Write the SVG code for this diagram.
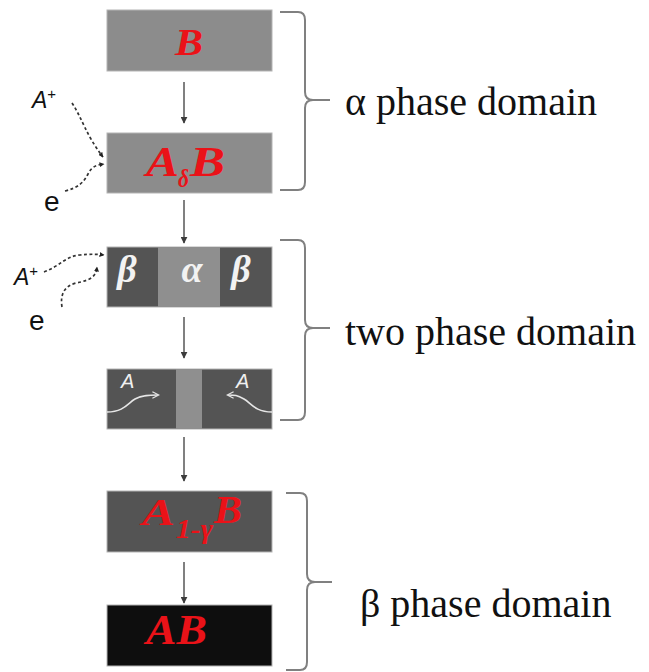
<svg xmlns="http://www.w3.org/2000/svg" width="649" height="672" viewBox="0 0 649 672">
  <style>
    .box { stroke: #b4b4b4; stroke-width: 1; }
    .mid { fill: #8c8c8c; }
    .dark { fill: #545454; }
    .black { fill: #0e0e0e; }
    .red { font-family: "Liberation Serif", "Times New Roman", serif; font-weight: bold; font-style: italic; fill: #ea1218; }
    .big { font-size: 42px; }
    .sub { font-size: 25px; }
    .greek { font-family: "Liberation Serif", "Times New Roman", serif; font-weight: bold; font-style: italic; fill: #f2f2f2; font-size: 38px; }
    .lbl { font-family: "Liberation Sans", Arial, sans-serif; fill: #111; font-size: 23px; }
    .el { font-size: 28px; }
    .ion { font-style: italic; }
    .sup { font-size: 15px; }
    .wA { font-family: "Liberation Sans", Arial, sans-serif; font-style: italic; font-size: 20px; fill: #f0f0f0; }
    .dom { font-family: "Liberation Serif", "Times New Roman", serif; font-size: 40px; fill: #111; }
    .flow { stroke: #3c3c3c; stroke-width: 1.3; fill: none; marker-end: url(#head); }
    .dash { stroke: #333; stroke-width: 1.7; fill: none; stroke-dasharray: 3 2.5; marker-end: url(#dhead); }
    .brace { stroke: #808080; stroke-width: 2; fill: none; }
    .wflow { stroke: #e6e6e6; stroke-width: 1.6; fill: none; marker-end: url(#whead); }
  </style>
  <defs>
    <marker id="head" viewBox="0 0 10 10" refX="9" refY="5" markerWidth="7" markerHeight="7" markerUnits="userSpaceOnUse" orient="auto">
      <path d="M0,0 L10,5 L0,10 z" fill="#3c3c3c"/>
    </marker>
    <marker id="dhead" viewBox="0 0 10 10" refX="9" refY="5" markerWidth="5" markerHeight="5" markerUnits="userSpaceOnUse" orient="auto">
      <path d="M0,0 L10,5 L0,10 z" fill="#222"/>
    </marker>
    <marker id="whead" viewBox="0 0 10 10" refX="8" refY="5" markerWidth="8" markerHeight="8" markerUnits="userSpaceOnUse" orient="auto">
      <path d="M1,1 L9,5 L1,9" fill="none" stroke="#e6e6e6" stroke-width="1.6"/>
    </marker>
  </defs>

  <rect width="649" height="672" fill="#ffffff"/>

  <!-- vertical flow arrows and dashed supply paths -->
  <g id="connectors">
    <path class="flow" d="M184,82 L184,123"/>
    <path class="flow" d="M184,200 L184,243"/>
    <path class="flow" d="M184,317 L184,358"/>
    <path class="flow" d="M184,437 L184,481"/>
    <path class="flow" d="M184,562 L184,603"/>
    <path class="dash" d="M72,103 C82,118 86,135 103,157"/>
    <path class="dash" d="M65,191 C78,188 84,182 88,174 C92,166 97,165 104,164"/>
    <path class="dash" d="M44,272 C60,266 66,256 80,255 C90,254 96,254 104,255"/>
    <path class="dash" d="M62,307 C60,295 64,286 76,283 C92,280 96,276 97,267"/>
  </g>

  <!-- alpha phase B -->
  <g id="node-b">
    <rect class="box mid" x="107" y="10" width="165" height="61"/>
    <text class="red" x="175" y="55" style="font-size:37px" textLength="28" lengthAdjust="spacingAndGlyphs">B</text>
  </g>

  <!-- alpha phase AδB -->
  <g id="node-adb">
    <rect class="box mid" x="107" y="133" width="165" height="60"/>
    <text class="red big" x="146" y="176" textLength="33" lengthAdjust="spacingAndGlyphs">A</text>
    <text class="red sub" x="178" y="187" textLength="11" lengthAdjust="spacingAndGlyphs">δ</text>
    <text class="red big" x="190" y="176" textLength="35" lengthAdjust="spacingAndGlyphs">B</text>
  </g>

  <!-- two phase: β | α | β -->
  <g id="node-bab">
    <rect class="box dark" x="107" y="247" width="165" height="60"/>
    <rect x="158" y="247" width="62" height="60" fill="#8f8f8f"/>
    <text class="greek" x="127" y="282" text-anchor="middle">β</text>
    <text class="greek" x="192" y="282" text-anchor="middle">α</text>
    <text class="greek" x="241" y="282" text-anchor="middle">β</text>
  </g>

  <!-- two phase: A diffusing inward -->
  <g id="node-diffusion">
    <rect class="box dark" x="107" y="369" width="165" height="60"/>
    <rect x="176" y="369" width="26" height="60" fill="#8f8f8f"/>
    <text class="wA" x="121" y="388">A</text>
    <text class="wA" x="236" y="388">A</text>
    <path class="wflow" d="M107,412 C124,412 128,403 135,399 C142,395 150,395 158,395"/>
    <path class="wflow" d="M272,412 C255,412 251,403 244,399 C237,395 235,395 228,395"/>
  </g>

  <!-- beta phase A1-γB -->
  <g id="node-a1gb">
    <rect class="box dark" x="107" y="491" width="165" height="61"/>
    <text class="red" x="142" y="525" style="font-size:38px" textLength="33" lengthAdjust="spacingAndGlyphs">A</text>
    <text class="red" x="176" y="538" style="font-size:27px" textLength="37" lengthAdjust="spacingAndGlyphs">1-γ</text>
    <text class="red" x="214" y="523" style="font-size:40px" textLength="28" lengthAdjust="spacingAndGlyphs">B</text>
  </g>

  <!-- beta phase AB -->
  <g id="node-ab">
    <rect class="box black" x="107" y="605" width="165" height="61"/>
    <text class="red big" x="146" y="644" textLength="61" lengthAdjust="spacingAndGlyphs">AB</text>
  </g>

  <!-- species labels -->
  <g id="labels">
    <text class="lbl" x="32" y="108"><tspan class="ion">A</tspan><tspan class="sup" dy="-9">+</tspan></text>
    <text class="lbl el" x="44" y="211">e</text>
    <text class="lbl" x="14" y="285"><tspan class="ion">A</tspan><tspan class="sup" dy="-9">+</tspan></text>
    <text class="lbl el" x="29" y="330">e</text>
  </g>

  <!-- domain braces -->
  <g id="brace-alpha">
    <path class="brace" d="M280,12 L298,12 Q305,12 305,20 L305,92 Q305,100 313,100 L330,100 M313,100 Q305,100 305,108 L305,182 Q305,190 298,190 L280,190"/>
    <text class="dom" x="345" y="115">α phase domain</text>
  </g>
  <g id="brace-two">
    <path class="brace" d="M280,240 L298,240 Q305,240 305,248 L305,320 Q305,328 313,328 L330,328 M313,328 Q305,328 305,336 L305,412 Q305,420 298,420 L280,420"/>
    <text class="dom" x="345" y="345">two phase domain</text>
  </g>
  <g id="brace-beta">
    <path class="brace" d="M286,493 L300,493 Q307,493 307,501 L307,574 Q307,582 315,582 L332,582 M315,582 Q307,582 307,590 L307,662 Q307,670 300,670 L286,670"/>
    <text class="dom" x="360" y="617">β phase domain</text>
  </g>
</svg>
